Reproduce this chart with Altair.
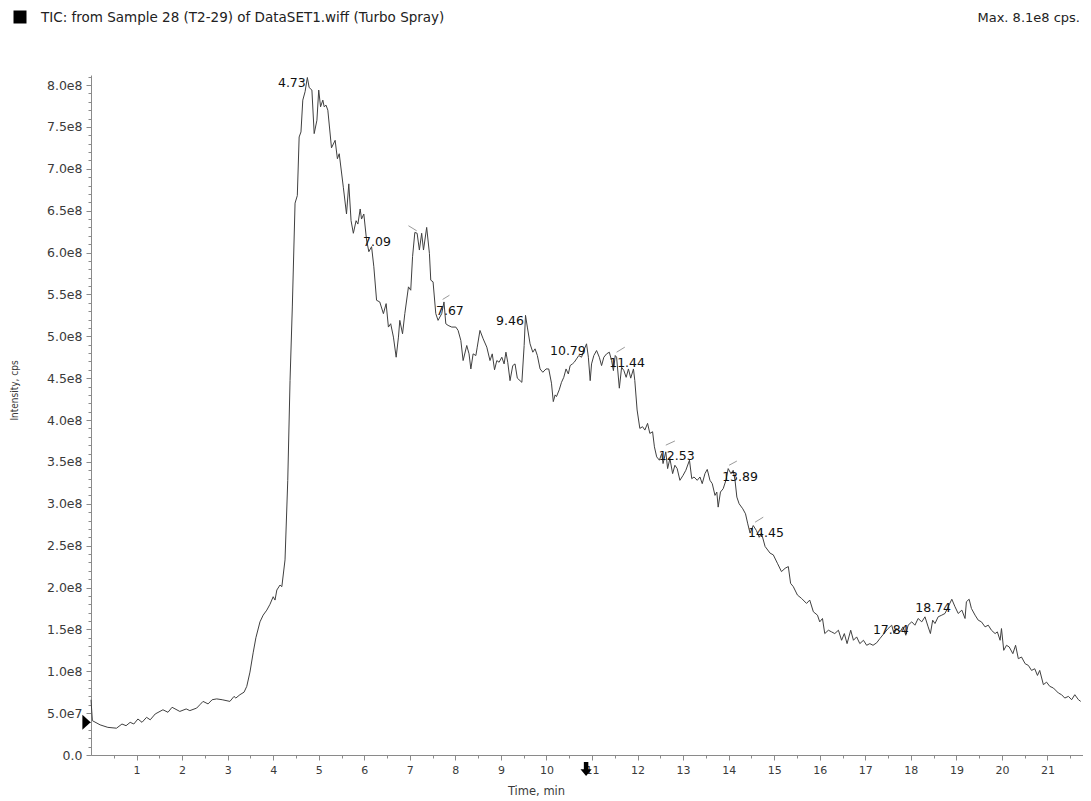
import altair as alt
import pandas as pd

# ---------------- data (time in min, intensity in units of 1e8 cps) ----------------
time_base = [0.00, 0.03, 0.20, 0.37, 0.56, 0.68, 0.77, 0.86, 0.94, 1.03, 1.12, 1.22, 1.30, 1.41,
             1.58, 1.69, 1.78, 1.95, 2.09, 2.17, 2.32, 2.39, 2.46, 2.57, 2.66, 2.76, 2.88, 3.05,
             3.14, 3.18, 3.27, 3.36, 3.42, 3.49, 3.56, 3.62, 3.71, 3.78, 3.86, 3.93, 4.00, 4.04,
             4.08, 4.15, 4.19, 4.26]
int_base = [0.66, 0.41, 0.36, 0.33, 0.32, 0.37, 0.35, 0.39, 0.37, 0.43, 0.39, 0.45, 0.42, 0.49,
            0.54, 0.51, 0.57, 0.52, 0.55, 0.53, 0.56, 0.60, 0.64, 0.61, 0.66, 0.67, 0.66, 0.64,
            0.70, 0.68, 0.72, 0.75, 0.82, 0.99, 1.22, 1.40, 1.59, 1.67, 1.73, 1.80, 1.89, 1.85,
            1.97, 2.03, 2.01, 2.33]

time_main = [4.32, 4.37, 4.42, 4.48, 4.53, 4.57, 4.61, 4.65, 4.70, 4.75,
             4.79, 4.85, 4.90, 4.96, 5.00, 5.04, 5.09, 5.12, 5.16, 5.20,
             5.28, 5.36, 5.41, 5.45, 5.54, 5.61, 5.66, 5.71, 5.76, 5.82,
             5.86, 5.91, 5.94, 5.99, 6.05, 6.10, 6.16, 6.21, 6.27, 6.34,
             6.42, 6.48, 6.53, 6.58, 6.64, 6.70, 6.75, 6.78, 6.84, 6.89,
             6.97, 7.02, 7.06, 7.11, 7.16, 7.21, 7.26, 7.30, 7.37, 7.43,
             7.46, 7.51, 7.57, 7.62, 7.70, 7.75, 7.79, 7.84, 7.92, 8.01,
             8.06, 8.12, 8.17, 8.25, 8.30, 8.34, 8.39, 8.45, 8.48, 8.54,
             8.61, 8.69, 8.76, 8.81, 8.86, 8.91, 8.96, 9.02, 9.07, 9.11,
             9.15, 9.20, 9.26, 9.31, 9.36, 9.42, 9.46, 9.51, 9.54, 9.58,
             9.64, 9.70, 9.75, 9.80, 9.86, 9.92, 9.99, 10.05, 10.11, 10.15,
             10.19, 10.22, 10.28, 10.33, 10.38, 10.43, 10.48, 10.52, 10.57, 10.61,
             10.66, 10.71, 10.77, 10.82, 10.88, 10.92, 10.96, 10.99, 11.04, 11.10,
             11.16, 11.21, 11.26, 11.32, 11.38, 11.43, 11.47, 11.51, 11.54, 11.60,
             11.65, 11.70, 11.75, 11.80, 11.85, 11.91, 11.94, 11.99, 12.05, 12.11,
             12.16, 12.22, 12.27, 12.33, 12.37, 12.42, 12.48, 12.53, 12.56, 12.62,
             12.66, 12.71, 12.77, 12.82, 12.87, 12.93, 13.00, 13.06, 13.14, 13.19,
             13.24, 13.31, 13.37, 13.42, 13.48, 13.53, 13.59, 13.64, 13.70, 13.74,
             13.77, 13.82, 13.88, 13.94, 13.99, 14.05, 14.10, 14.14, 14.18, 14.23,
             14.31, 14.37, 14.42, 14.47, 14.54, 14.61, 14.67, 14.72, 14.80, 14.91,
             14.98, 15.07, 15.16, 15.24, 15.31, 15.36, 15.42, 15.51, 15.60, 15.71,
             15.78, 15.86, 15.95, 16.00, 16.06, 16.11, 16.19, 16.26, 16.33, 16.41,
             16.48, 16.54, 16.60, 16.68, 16.74, 16.81, 16.88, 16.96, 17.03, 17.10,
             17.17, 17.25, 17.32, 17.41, 17.50, 17.58, 17.63, 17.69, 17.76, 17.83,
             17.89, 17.94, 18.02, 18.09, 18.16, 18.24, 18.31, 18.38, 18.43, 18.48,
             18.53, 18.60, 18.68, 18.75, 18.82, 18.90, 18.97, 19.04, 19.12, 19.19,
             19.22, 19.28, 19.33, 19.41, 19.48, 19.55, 19.63, 19.70, 19.77, 19.85,
             19.90, 19.96, 19.99, 20.04, 20.10, 20.16, 20.24, 20.30, 20.36, 20.43,
             20.51, 20.58, 20.65, 20.72, 20.78, 20.83, 20.91, 20.98, 21.05, 21.13,
             21.24, 21.31, 21.38, 21.46, 21.53, 21.60, 21.68, 21.73]
int_main = [3.28, 4.47, 5.35, 6.59, 6.68, 7.38, 7.44, 7.82, 7.92, 8.09,
            7.97, 7.94, 7.42, 7.58, 7.94, 7.74, 7.82, 7.74, 7.76, 7.70,
            7.25, 7.34, 7.12, 7.18, 6.78, 6.46, 6.82, 6.38, 6.23, 6.38,
            6.34, 6.52, 6.40, 6.46, 6.15, 6.01, 6.07, 5.83, 5.43, 5.41,
            5.27, 5.39, 5.11, 5.15, 4.99, 4.75, 4.99, 5.19, 5.03, 5.27,
            5.59, 5.55, 5.95, 6.24, 6.23, 6.03, 6.23, 6.03, 6.30, 5.99,
            5.67, 5.65, 5.27, 5.19, 5.27, 5.41, 5.15, 5.13, 5.11, 5.11,
            5.07, 4.95, 4.71, 4.89, 4.79, 4.61, 4.79, 4.77, 4.87, 5.07,
            4.97, 4.87, 4.71, 4.79, 4.60, 4.71, 4.69, 4.75, 4.67, 4.81,
            4.69, 4.47, 4.65, 4.67, 4.50, 4.47, 4.45, 4.89, 5.25, 5.11,
            4.91, 4.81, 4.85, 4.77, 4.61, 4.57, 4.61, 4.61, 4.44, 4.22,
            4.30, 4.28, 4.36, 4.45, 4.51, 4.61, 4.55, 4.65, 4.67, 4.69,
            4.73, 4.77, 4.75, 4.83, 4.91, 4.75, 4.47, 4.67, 4.77, 4.83,
            4.75, 4.65, 4.75, 4.79, 4.81, 4.71, 4.59, 4.77, 4.75, 4.38,
            4.63, 4.59, 4.51, 4.61, 4.50, 4.61, 4.47, 4.12, 3.90, 3.92,
            3.88, 3.96, 3.84, 3.86, 3.68, 3.56, 3.52, 3.60, 3.48, 3.62,
            3.42, 3.54, 3.36, 3.46, 3.42, 3.28, 3.34, 3.40, 3.52, 3.30,
            3.32, 3.28, 3.32, 3.24, 3.36, 3.41, 3.28, 3.24, 3.10, 3.14,
            2.96, 3.14, 3.18, 3.28, 3.42, 3.36, 3.40, 3.28, 3.08, 3.00,
            2.94, 2.88, 2.76, 2.65, 2.74, 2.68, 2.60, 2.65, 2.49, 2.41,
            2.39, 2.29, 2.19, 2.23, 2.25, 2.05, 2.01, 1.91, 1.87, 1.81,
            1.85, 1.71, 1.67, 1.59, 1.63, 1.45, 1.49, 1.47, 1.45, 1.49,
            1.37, 1.45, 1.33, 1.49, 1.37, 1.41, 1.33, 1.37, 1.31, 1.33,
            1.31, 1.34, 1.39, 1.45, 1.51, 1.55, 1.45, 1.51, 1.47, 1.53,
            1.43, 1.55, 1.59, 1.55, 1.63, 1.59, 1.65, 1.53, 1.45, 1.61,
            1.57, 1.65, 1.67, 1.69, 1.77, 1.86, 1.77, 1.69, 1.73, 1.63,
            1.83, 1.86, 1.75, 1.67, 1.61, 1.59, 1.53, 1.55, 1.49, 1.45,
            1.47, 1.37, 1.51, 1.25, 1.31, 1.29, 1.21, 1.31, 1.15, 1.17,
            1.09, 1.07, 1.01, 1.03, 0.95, 1.01, 0.84, 0.87, 0.82, 0.80,
            0.74, 0.72, 0.68, 0.70, 0.66, 0.72, 0.66, 0.64]

# peak retention-time labels and where they sit (time, intensity e8)
peak_text = ["4.73", "7.09", "7.67", "9.46", "10.79", "11.44", "12.53", "13.89", "14.45", "17.84", "18.74"]
peak_text_time = [4.41, 6.28, 7.88, 9.20, 10.47, 11.77, 12.86, 14.25, 14.82, 17.56, 18.49]
peak_text_int = [8.02, 6.13, 5.30, 5.18, 4.82, 4.68, 3.57, 3.32, 2.65, 1.49, 1.75]

# small apex ticks
apex_t1 = [6.97, 7.72, 11.54, 12.62, 14.01, 14.58]
apex_t2 = [7.15, 7.87, 11.72, 12.82, 14.18, 14.76]
apex_v1 = [6.32, 5.44, 4.81, 3.70, 3.46, 2.78]
apex_v2 = [6.26, 5.49, 4.87, 3.75, 3.51, 2.84]

# markers
start_marker_time = [0.0]
start_marker_int = [0.39]
arrow_time = [10.87]
arrow_int = [0.0]

title_text = ["TIC: from Sample 28 (T2-29) of DataSET1.wiff (Turbo Spray)"]
max_text = ["Max. 8.1e8 cps."]

x_major = list(range(1, 22))
x_minor = [i + 0.5 for i in range(22)]
y_major = [i * 0.5 for i in range(17)]
y_minor = [round(i * 0.1, 1) for i in range(82)]

# ---------------- styling ----------------
FONT = "DejaVu Sans"
NARROW = "'DejaVu Sans Condensed', 'Liberation Sans Narrow', 'Liberation Sans', sans-serif"
GRAY = "#8a8a8a"
TXT = "#3a3a3a"

df = pd.DataFrame({"t": time_base + time_main, "v": int_base + int_main})
peaks = pd.DataFrame({"t": peak_text_time, "v": peak_text_int, "label": peak_text})
apex = pd.DataFrame({"t1": apex_t1, "t2": apex_t2, "v1": apex_v1, "v2": apex_v2})
start_df = pd.DataFrame({"t": start_marker_time, "v": start_marker_int})
arrow_df = pd.DataFrame({"t": arrow_time, "v": arrow_int})

xs = alt.Scale(domain=[0, 21.78], nice=False, zero=False)
ys = alt.Scale(domain=[0, 8.12], nice=False)

ylabel = ("datum.value == 0 ? '0.0' : (datum.value < 1 ? format(datum.value * 10, '.1f') + 'e7' "
          ": format(datum.value, '.1f') + 'e8')")

x_major_axis = alt.Axis(orient="bottom", values=x_major, format="d", tickSize=5, labelPadding=4,
                        domainColor=GRAY, tickColor=GRAY, labelColor=TXT, labelFont=FONT,
                        labelFontSize=11, grid=False, labelFlush=False,
                        title="Time, min", titleFont=FONT, titleFontSize=11.5, titleFontWeight="normal",
                        titleColor=TXT, titleX=445, titleY=36, titleAlign="center",
                        titleBaseline="middle")
x_minor_axis = alt.Axis(orient="bottom", values=x_minor, labels=False, domain=False, tickSize=3,
                        tickColor=GRAY, grid=False, title=None)
y_major_axis = alt.Axis(orient="left", values=y_major, labelExpr=ylabel, tickSize=5, labelPadding=4,
                        domainColor=GRAY, tickColor=GRAY, labelColor=TXT, labelFont=FONT,
                        labelFontSize=12.5, grid=False, labelFlush=False,
                        title="Intensity, cps", titleFont=NARROW, titleFontSize=10,
                        titleFontWeight="normal", titleColor=TXT, titleAngle=270, titleX=-77,
                        titleY=315, titleAlign="center", titleBaseline="middle")
y_minor_axis = alt.Axis(orient="left", values=y_minor, labels=False, domain=False, tickSize=3,
                        tickColor=GRAY, grid=False, title=None)

line = alt.Chart(df).mark_line(color="#404040", strokeWidth=1).encode(
    x=alt.X("t:Q", scale=xs, axis=x_major_axis),
    y=alt.Y("v:Q", scale=ys, axis=y_major_axis),
)
minor = alt.Chart(df).mark_line(opacity=0).encode(
    x=alt.X("t:Q", scale=xs, axis=x_minor_axis),
    y=alt.Y("v:Q", scale=ys, axis=y_minor_axis),
)
labels = alt.Chart(peaks).mark_text(font=FONT, fontSize=12.5, color="#111111", align="center",
                                    baseline="middle").encode(
    x=alt.X("t:Q", scale=xs, axis=None),
    y=alt.Y("v:Q", scale=ys, axis=None),
    text="label:N",
)
ticks = alt.Chart(apex).mark_rule(color="#9a9a9a", strokeWidth=1).encode(
    x=alt.X("t1:Q", scale=xs, axis=None), x2="t2:Q",
    y=alt.Y("v1:Q", scale=ys, axis=None), y2="v2:Q",
)
start_mark = alt.Chart(start_df).mark_point(shape="M-0.55,-1L0.55,0L-0.55,1Z", size=225, filled=True,
                                            color="black", opacity=1, xOffset=-4.5).encode(
    x=alt.X("t:Q", scale=xs, axis=None),
    y=alt.Y("v:Q", scale=ys, axis=None),
)
arrow_mark = alt.Chart(arrow_df).mark_point(
    shape="M-0.32,-1L0.32,-1L0.32,0.05L0.8,0.05L0,1L-0.8,0.05L-0.32,0.05Z",
    size=196, filled=True, color="black", opacity=1, yOffset=14).encode(
    x=alt.X("t:Q", scale=xs, axis=None),
    y=alt.Y("v:Q", scale=ys, axis=None),
)
title_mark = alt.Chart(pd.DataFrame({"s": title_text})).mark_text(
    font=FONT, fontSize=13.5, color="#222222", align="left", baseline="middle").encode(
    x=alt.value(-50), y=alt.value(-57), text="s:N")
max_mark = alt.Chart(pd.DataFrame({"s": max_text})).mark_text(
    font=FONT, fontSize=13, color="#222222", align="right", baseline="middle").encode(
    x=alt.value(989), y=alt.value(-57), text="s:N")
square_mark = alt.Chart(pd.DataFrame({"s": title_text})).mark_square(
    size=169, filled=True, color="black", opacity=1).encode(
    x=alt.value(-71), y=alt.value(-58))

chart = alt.layer(
    line, minor, ticks, labels, start_mark, arrow_mark, title_mark, max_mark, square_mark
).resolve_axis(x="independent", y="independent").properties(
    width=992, height=680,
    autosize=alt.AutoSizeParams(type="none"),
    padding={"left": 83, "top": 67, "right": 0, "bottom": 48},
    background="white",
).configure_view(stroke=None)

chart.save("out.html", embed_options={"renderer": "svg", "actions": False})
